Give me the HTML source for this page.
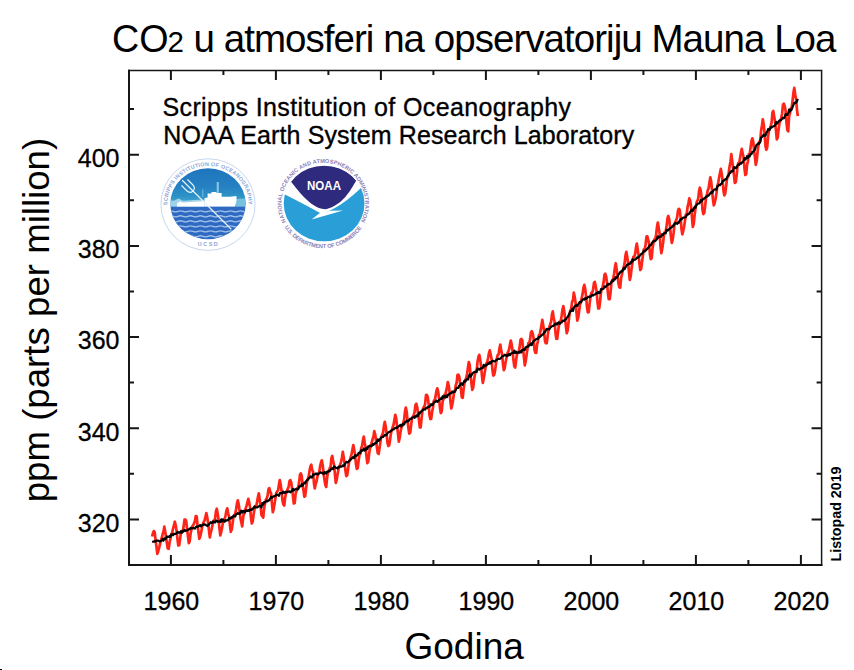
<!DOCTYPE html>
<html><head><meta charset="utf-8"><style>
html,body{margin:0;padding:0;background:#fff;width:854px;height:670px;overflow:hidden}
svg{display:block}
svg{font-family:"Liberation Sans",Arial,sans-serif}
</style></head><body>
<svg width="854" height="670" viewBox="0 0 854 670">
<rect width="854" height="670" fill="#fff"/>
<rect x="0" y="669" width="2" height="1" fill="#000"/>
<g id="title" font-size="38.5">
<text x="112" y="51.7" textLength="56.5" lengthAdjust="spacingAndGlyphs">CO</text>
<text x="167.4" y="51.7" font-size="29.5">2</text>
<text x="193.5" y="51.7" textLength="643" lengthAdjust="spacing">u atmosferi na opservatoriju Mauna Loa</text>
</g>
<g id="logos">
<defs>
<clipPath id="sc"><ellipse cx="208" cy="203.8" rx="37.7" ry="35.5"/></clipPath>
<clipPath id="nc"><ellipse cx="324.1" cy="203.5" rx="40.4" ry="37.8"/></clipPath>
<linearGradient id="sky" x1="0" y1="0" x2="0" y2="1">
<stop offset="0" stop-color="#1f74bd"/><stop offset="0.5" stop-color="#2580c2"/><stop offset="0.75" stop-color="#2d93c6"/><stop offset="0.92" stop-color="#45a9cf"/><stop offset="1" stop-color="#62b8d8"/>
</linearGradient>
<path id="sarc" d="M167.42 205.13A40.6 38.0 0 1 1 248.58 205.13"/>
<path id="narc" d="M286.06 221.93A41.8 40.6 0 1 1 360.54 221.93"/>
<path id="narc2" d="M284.63 227.13A45.6 44.6 0 0 0 361.97 227.13"/>
</defs>
<ellipse cx="208" cy="204.6" rx="47.1" ry="45.8" fill="none" stroke="#c6d8f0" stroke-width="1"/>
<g clip-path="url(#sc)">
<rect x="168" y="166" width="80" height="40.5" fill="url(#sky)"/>
<rect x="168" y="206.3" width="80" height="36" fill="#2f69c2"/>
<g fill="none" stroke="#9cc0e8" stroke-width="1.3"><path d="M168 211.4q2.5-1.1 5 0t5 0 5 0 5 0 5 0 5 0 5 0 5 0 5 0 5 0 5 0 5 0 5 0 5 0 5 0 5 0"/><path d="M168 216.3q2.5-1.1 5 0t5 0 5 0 5 0 5 0 5 0 5 0 5 0 5 0 5 0 5 0 5 0 5 0 5 0 5 0 5 0"/><path d="M168 221.3q2.5-1.1 5 0t5 0 5 0 5 0 5 0 5 0 5 0 5 0 5 0 5 0 5 0 5 0 5 0 5 0 5 0 5 0"/><path d="M168 226.4q2.5-1.1 5 0t5 0 5 0 5 0 5 0 5 0 5 0 5 0 5 0 5 0 5 0 5 0 5 0 5 0 5 0 5 0"/><path d="M168 231.4q2.5-1.1 5 0t5 0 5 0 5 0 5 0 5 0 5 0 5 0 5 0 5 0 5 0 5 0 5 0 5 0 5 0 5 0"/><path d="M168 236.3q2.5-1.1 5 0t5 0 5 0 5 0 5 0 5 0 5 0 5 0 5 0 5 0 5 0 5 0 5 0 5 0 5 0 5 0"/><path d="M168 241.2q2.5-1.1 5 0t5 0 5 0 5 0 5 0 5 0 5 0 5 0 5 0 5 0 5 0 5 0 5 0 5 0 5 0 5 0"/></g>
<path d="M170 206.5V200.5L174 200.8L178.5 198.6L183 200.8Q188 200.4 193 200Q198 199.4 204.5 199.8V206.5Z" fill="#9fd3ea"/><path d="M177 206.5V203.5L179.5 201.6L183 202.6Q190 201.8 204.5 201.2V206.5Z" fill="#fff"/><path d="M236 206.5V199L242 198.5L248 199V206.5Z" fill="#77c0de"/>
<path d="M204.5 206.5V198.3L207.6 197.5V193.5H211.5V192H216.5V193H221.6V196.8H230L236.5 196V201L235 206.5Z" fill="#fff"/>
<path d="M216.7 182H218.8V193H216.7Z" fill="#8cc6e6"/>
<path d="M202.2 189.5H203.4V197H202.2Z" fill="#6db3dc"/>
<g fill="none" stroke="#e6f3fb" stroke-width="1.15" stroke-linecap="round">
<path d="M181.75 185.75L186.50 190.50Q190.00 194.00 193.00 191.00Q196.00 188.00 192.50 184.50L187.75 179.75M182.50 180.50L231.00 229.00"/>
</g>
</g>
<g font-size="5.4" font-weight="bold" fill="#8aa6d6">
<text><textPath href="#sarc" textLength="125.2" lengthAdjust="spacing">SCRIPPS INSTITUTION OF OCEANOGRAPHY</textPath></text>
<text x="208.5" y="246" text-anchor="middle" font-size="5.4" letter-spacing="1.6">UCSD</text>
</g>
<g clip-path="url(#nc)">
<path d="M280 192Q305 204.5 321.5 213.8Q341 208 364 185L372 185L372 245L280 245Z" fill="#2a9fd7"/>
<path d="M311.6 219.4L319.5 213.2L330 210.8L343 210.6L326.5 215.2Z" fill="#fff"/>
<path d="M290.7 181.2A40.4 37.8 0 0 1 356.3 180.6C350 191 343 205 326 209.3C312 209 300 193 290.7 181.2Z" fill="#2e2a7e"/>
</g>
<text x="307" y="190.2" font-weight="bold" font-size="12.5" fill="#fff" textLength="34" lengthAdjust="spacingAndGlyphs">NOAA</text>
<g font-size="5.6" font-weight="bold" fill="#8a80b6">
<text><textPath href="#narc" textLength="166.8" lengthAdjust="spacing">NATIONAL OCEANIC AND ATMOSPHERIC ADMINISTRATION</textPath></text>
<text><textPath href="#narc2" textLength="90.8" lengthAdjust="spacing">U.S. DEPARTMENT OF COMMERCE</textPath></text>
</g>
</g>
<g font-size="25" stroke="#000" stroke-width="0.35">
<text x="162.5" y="115.6" textLength="408.5" lengthAdjust="spacing">Scripps Institution of Oceanography</text>
<text x="163.3" y="144.4" textLength="471" lengthAdjust="spacing">NOAA Earth System Research Laboratory</text>
</g>
<path d="M152.1 536.5L153.0 533.0 153.8 531.1 154.7 532.2 155.6 540.4 156.5 547.0 157.3 553.8 158.2 551.5 159.1 547.9 160.0 544.1 160.8 540.4 161.7 538.1 162.6 534.3 163.5 531.7 164.3 526.6 165.2 531.8 166.1 537.5 167.0 544.0 167.8 548.5 168.7 548.8 169.6 542.2 170.5 538.1 171.3 534.7 172.2 532.2 173.1 528.6 174.0 525.2 174.8 521.7 175.7 525.3 176.6 531.1 177.5 539.4 178.3 545.5 179.2 545.2 180.1 539.1 181.0 531.6 181.8 532.5 182.7 530.7 183.6 526.8 184.5 519.6 185.3 519.5 186.2 521.2 187.1 529.0 188.0 536.5 188.8 543.1 189.7 541.3 190.6 533.5 191.5 529.3 192.3 526.4 193.2 525.2 194.1 523.4 195.0 520.7 195.8 516.1 196.7 516.4 197.6 525.9 198.5 532.5 199.3 538.8 200.2 536.6 201.1 532.7 202.0 527.7 202.8 524.7 203.7 521.9 204.6 520.4 205.5 516.7 206.3 513.1 207.2 517.1 208.1 522.9 209.0 530.7 209.8 537.4 210.7 532.8 211.6 529.5 212.5 525.1 213.3 520.9 214.2 520.8 215.1 518.6 216.0 510.9 216.8 508.7 217.7 514.0 218.6 519.8 219.5 528.6 220.3 535.4 221.2 532.0 222.1 527.6 223.0 522.2 223.8 520.1 224.7 519.0 225.6 515.2 226.5 510.3 227.3 508.3 228.2 513.3 229.1 516.7 230.0 525.6 230.8 531.8 231.7 529.6 232.6 523.7 233.5 516.5 234.3 515.2 235.2 513.7 236.1 509.3 237.0 503.3 237.8 500.3 238.7 504.2 239.6 511.4 240.5 518.4 241.3 522.1 242.2 526.4 243.1 518.2 244.0 511.9 244.8 513.1 245.7 508.3 246.6 505.6 247.5 502.2 248.3 498.8 249.2 502.4 250.1 507.4 251.0 517.8 251.8 523.5 252.7 521.5 253.6 514.3 254.5 509.2 255.3 506.1 256.2 506.7 257.1 501.8 258.0 496.7 258.8 493.3 259.7 499.6 260.6 505.9 261.5 515.1 262.3 516.1 263.2 517.7 264.1 508.4 265.0 503.8 265.8 499.9 266.7 498.3 267.6 495.8 268.5 489.3 269.3 488.1 270.2 491.6 271.1 493.6 272.0 504.5 272.8 512.2 273.7 508.8 274.6 503.6 275.5 497.6 276.3 493.0 277.2 491.4 278.1 490.4 279.0 484.2 279.8 480.0 280.7 484.7 281.6 491.6 282.5 500.5 283.3 504.2 284.2 505.6 285.1 498.0 286.0 493.1 286.8 492.1 287.7 488.8 288.6 486.9 289.5 481.1 290.3 480.1 291.2 482.2 292.1 488.8 293.0 496.6 293.8 503.5 294.7 503.1 295.6 493.8 296.5 490.9 297.3 488.1 298.2 488.0 299.1 482.3 300.0 474.6 300.8 473.3 301.7 476.0 302.6 485.0 303.5 490.2 304.3 496.7 305.2 496.1 306.1 488.1 307.0 481.6 307.8 478.8 308.7 476.4 309.6 470.5 310.5 466.1 311.3 464.7 312.2 470.0 313.1 471.9 314.0 483.7 314.8 488.5 315.7 484.0 316.6 481.0 317.5 476.2 318.3 473.7 319.2 472.2 320.1 466.4 321.0 462.5 321.8 460.3 322.7 465.2 323.6 473.5 324.5 479.7 325.3 484.7 326.2 486.9 327.1 477.9 328.0 472.2 328.8 470.8 329.7 468.4 330.6 466.3 331.5 457.7 332.3 455.9 333.2 461.7 334.1 464.8 335.0 475.1 335.8 482.8 336.7 479.8 337.6 474.2 338.5 469.2 339.3 466.5 340.2 464.7 341.1 461.8 342.0 457.2 342.8 451.8 343.7 457.4 344.6 463.8 345.5 471.0 346.3 476.1 347.2 475.2 348.1 468.7 349.0 462.2 349.8 460.3 350.7 457.5 351.6 453.7 352.5 449.3 353.3 445.1 354.2 449.6 355.1 454.6 356.0 464.5 356.8 468.9 357.7 468.2 358.6 460.5 359.5 454.9 360.3 453.8 361.2 448.2 362.1 445.6 363.0 439.8 363.8 436.5 364.7 443.0 365.6 447.5 366.5 456.3 367.3 463.1 368.2 461.8 369.1 454.3 370.0 448.1 370.8 446.4 371.7 442.6 372.6 439.2 373.5 436.0 374.3 431.0 375.2 434.4 376.1 441.4 377.0 448.1 377.8 453.2 378.7 453.9 379.6 447.5 380.5 441.2 381.3 436.4 382.2 434.8 383.1 432.5 384.0 425.7 384.8 421.8 385.7 426.6 386.6 433.4 387.5 442.8 388.3 446.0 389.2 445.4 390.1 439.5 391.0 433.1 391.8 430.2 392.7 427.2 393.6 424.5 394.5 419.2 395.3 414.8 396.2 418.6 397.1 426.4 398.0 433.8 398.8 441.7 399.7 437.7 400.6 431.5 401.5 427.1 402.3 425.9 403.2 422.8 404.1 419.8 405.0 411.5 405.8 407.5 406.7 411.8 407.6 420.8 408.5 428.7 409.3 433.7 410.2 432.7 411.1 425.4 412.0 418.5 412.8 416.6 413.7 415.5 414.6 411.9 415.5 404.8 416.3 403.8 417.2 407.0 418.1 414.3 419.0 420.1 419.8 427.3 420.7 427.3 421.6 418.2 422.5 410.4 423.3 408.0 424.2 406.5 425.1 404.2 426.0 395.1 426.8 394.9 427.7 397.0 428.6 403.5 429.5 415.0 430.3 419.1 431.2 418.8 432.1 411.9 433.0 407.4 433.8 400.8 434.7 400.4 435.6 396.1 436.5 390.6 437.3 388.3 438.2 391.6 439.1 398.8 440.0 407.7 440.8 413.1 441.7 411.3 442.6 401.6 443.5 399.0 444.3 394.9 445.2 395.1 446.1 391.1 447.0 387.4 447.8 382.0 448.7 385.6 449.6 392.0 450.5 401.9 451.3 408.5 452.2 405.0 453.1 399.9 454.0 392.3 454.8 391.6 455.7 385.5 456.6 382.9 457.5 374.9 458.3 374.7 459.2 376.2 460.1 383.9 461.0 389.8 461.8 397.3 462.7 397.8 463.6 389.2 464.5 382.7 465.3 380.2 466.2 378.0 467.1 373.8 468.0 367.3 468.8 362.0 469.7 365.1 470.6 375.4 471.5 383.8 472.3 389.8 473.2 387.7 474.1 379.5 475.0 373.7 475.8 371.1 476.7 369.7 477.6 361.3 478.5 356.8 479.3 354.8 480.2 359.6 481.1 366.4 482.0 376.2 482.8 382.9 483.7 378.6 484.6 373.2 485.5 367.8 486.3 363.5 487.2 362.1 488.1 358.1 489.0 353.0 489.8 350.3 490.7 354.7 491.6 359.3 492.5 370.3 493.3 375.6 494.2 374.7 495.1 370.4 496.0 363.3 496.8 358.5 497.7 355.0 498.6 354.5 499.5 348.3 500.3 344.6 501.2 350.4 502.1 354.4 503.0 364.2 503.8 370.1 504.7 368.1 505.6 362.0 506.5 358.0 507.3 353.5 508.2 351.6 509.1 349.5 510.0 344.2 510.8 340.6 511.7 344.6 512.6 351.4 513.5 360.2 514.3 366.2 515.2 367.6 516.1 360.1 517.0 354.3 517.8 352.5 518.7 351.7 519.6 347.4 520.5 339.9 521.3 338.9 522.2 340.0 523.1 348.9 524.0 357.8 524.8 365.4 525.7 361.0 526.6 354.7 527.5 348.6 528.3 343.1 529.2 343.2 530.1 339.1 531.0 332.3 531.8 331.3 532.7 333.3 533.6 338.6 534.5 349.8 535.3 352.7 536.2 352.9 537.1 344.7 538.0 340.8 538.8 335.3 539.7 334.4 540.6 330.4 541.5 324.9 542.3 319.8 543.2 325.3 544.1 331.3 545.0 341.2 545.8 343.2 546.7 343.2 547.6 336.6 548.5 329.3 549.3 327.3 550.2 324.0 551.1 321.8 552.0 314.0 552.8 311.4 553.7 318.3 554.6 321.5 555.5 332.7 556.3 338.7 557.2 338.8 558.1 331.4 559.0 324.6 559.8 321.5 560.7 321.4 561.6 315.9 562.5 309.5 563.3 306.1 564.2 311.1 565.1 318.1 566.0 327.4 566.8 333.2 567.7 330.1 568.6 322.0 569.5 314.4 570.3 310.7 571.2 308.9 572.1 301.6 573.0 300.2 573.8 292.7 574.7 296.9 575.6 303.0 576.5 312.6 577.3 320.6 578.2 317.7 579.1 311.3 580.0 304.3 580.8 302.5 581.7 298.1 582.6 293.9 583.5 287.4 584.3 284.9 585.2 288.9 586.1 296.9 587.0 307.4 587.8 312.4 588.7 312.0 589.6 303.9 590.5 296.7 591.3 292.9 592.2 293.0 593.1 289.3 594.0 282.9 594.8 281.9 595.7 286.3 596.6 291.6 597.5 302.0 598.3 308.5 599.2 308.4 600.1 301.3 601.0 291.9 601.8 289.4 602.7 286.8 603.6 282.3 604.5 274.6 605.3 273.8 606.2 276.7 607.1 283.2 608.0 294.1 608.8 299.2 609.7 299.2 610.6 292.1 611.5 281.6 612.3 280.2 613.2 279.1 614.1 273.7 615.0 266.7 615.8 263.2 616.7 269.6 617.6 276.6 618.5 283.5 619.3 287.3 620.2 287.6 621.1 278.0 622.0 274.2 622.8 270.3 623.7 267.5 624.6 263.3 625.5 255.3 626.3 251.8 627.2 256.7 628.1 263.2 629.0 272.2 629.8 279.9 630.7 276.1 631.6 268.3 632.5 262.5 633.3 256.9 634.2 256.7 635.1 254.2 636.0 247.6 636.8 243.5 637.7 249.2 638.6 255.6 639.5 263.9 640.3 270.0 641.2 268.7 642.1 261.7 643.0 254.8 643.8 249.4 644.7 249.4 645.6 244.4 646.5 236.6 647.3 236.3 648.2 239.8 649.1 243.3 650.0 254.8 650.8 259.2 651.7 258.2 652.6 247.7 653.5 242.8 654.3 239.3 655.2 239.5 656.1 234.7 657.0 227.0 657.8 222.5 658.7 227.9 659.6 233.4 660.5 246.0 661.3 253.2 662.2 248.9 663.1 242.9 664.0 234.5 664.8 232.0 665.7 231.8 666.6 225.7 667.5 218.3 668.3 216.0 669.2 219.1 670.1 227.9 671.0 237.2 671.8 242.8 672.7 239.6 673.6 232.9 674.5 224.5 675.3 221.8 676.2 220.2 677.1 217.5 678.0 210.6 678.8 208.8 679.7 209.9 680.6 217.1 681.5 229.1 682.3 234.4 683.2 230.9 684.1 226.8 685.0 220.6 685.8 214.7 686.7 214.1 687.6 207.0 688.5 202.7 689.3 198.4 690.2 200.8 691.1 207.3 692.0 217.7 692.8 226.9 693.7 223.8 694.6 215.3 695.5 208.0 696.3 203.8 697.2 200.5 698.1 199.7 699.0 191.6 699.8 187.7 700.7 190.5 701.6 197.3 702.5 209.9 703.3 214.1 704.2 213.0 705.1 206.7 706.0 197.8 706.8 195.2 707.7 190.5 708.6 188.2 709.5 182.2 710.3 177.4 711.2 181.6 712.1 191.2 713.0 199.6 713.8 205.4 714.7 203.0 715.6 198.7 716.5 192.7 717.3 186.0 718.2 182.8 719.1 177.6 720.0 173.0 720.8 168.9 721.7 173.5 722.6 180.3 723.5 190.8 724.3 195.3 725.2 193.7 726.1 186.5 727.0 178.9 727.8 177.0 728.7 172.8 729.6 166.3 730.5 161.7 731.3 154.1 732.2 161.0 733.1 168.4 734.0 175.3 734.8 182.8 735.7 182.2 736.6 175.9 737.5 166.6 738.3 163.0 739.2 163.3 740.1 157.8 741.0 152.4 741.8 148.9 742.7 153.6 743.6 157.8 744.5 168.5 745.3 175.0 746.2 174.1 747.1 164.7 748.0 160.9 748.8 154.2 749.7 154.7 750.6 147.2 751.5 140.9 752.3 138.4 753.2 141.1 754.1 150.6 755.0 157.7 755.8 164.8 756.7 160.8 757.6 151.5 758.5 144.8 759.3 141.6 760.2 141.4 761.1 130.6 762.0 125.2 762.8 119.3 763.7 124.4 764.6 133.7 765.5 146.1 766.3 149.8 767.2 147.3 768.1 136.1 769.0 130.6 769.8 128.6 770.7 125.9 771.6 122.5 772.5 112.4 773.3 111.0 774.2 116.6 775.1 121.9 776.0 130.5 776.8 139.4 777.7 137.4 778.6 129.4 779.5 122.8 780.3 120.8 781.2 118.4 782.1 113.4 783.0 104.7 783.8 103.6 784.7 106.0 785.6 111.0 786.5 122.6 787.3 129.9 788.2 131.3 789.1 116.3 790.0 113.2 790.8 108.3 791.7 107.5 792.6 100.2 793.5 92.1 794.3 87.9 795.2 94.3 796.1 99.4 797.0 109.8 797.8 116.2" fill="none" stroke="#ff2418" stroke-width="2.7" stroke-linejoin="round"/>
<path d="M152.1 541.5L153.0 541.7 153.8 541.7 154.7 541.2 155.6 541.5 156.5 540.5 157.3 540.6 158.2 540.5 159.1 541.3 160.0 541.5 160.8 541.1 161.7 540.4 162.6 538.9 163.5 540.7 164.3 538.4 165.2 539.2 166.1 538.4 167.0 536.4 167.8 536.9 168.7 537.0 169.6 536.0 170.5 536.8 171.3 534.3 172.2 534.3 173.1 535.2 174.0 533.7 174.8 533.9 175.7 533.8 176.6 533.4 177.5 531.9 178.3 532.6 179.2 532.4 180.1 532.7 181.0 531.2 181.8 532.8 182.7 530.9 183.6 531.5 184.5 529.9 185.3 530.9 186.2 530.5 187.1 530.4 188.0 529.4 188.8 529.6 189.7 529.1 190.6 527.8 191.5 528.4 192.3 528.4 193.2 527.8 194.1 528.5 195.0 528.6 195.8 527.1 196.7 526.5 197.6 527.0 198.5 526.0 199.3 526.1 200.2 525.1 201.1 526.4 202.0 525.3 202.8 524.9 203.7 524.1 204.6 524.7 205.5 524.7 206.3 525.3 207.2 525.9 208.1 525.3 209.0 524.4 209.8 523.3 210.7 522.1 211.6 522.9 212.5 522.7 213.3 521.4 214.2 522.1 215.1 522.4 216.0 520.6 216.8 520.6 217.7 521.8 218.6 521.5 219.5 521.3 220.3 522.0 221.2 519.4 222.1 521.5 223.0 519.4 223.8 520.6 224.7 521.7 225.6 520.2 226.5 520.6 227.3 520.1 228.2 520.3 229.1 518.0 230.0 518.4 230.8 518.6 231.7 517.2 232.6 517.3 233.5 515.7 234.3 515.8 235.2 516.6 236.1 514.1 237.0 513.9 237.8 513.2 238.7 513.7 239.6 513.9 240.5 512.1 241.3 510.6 242.2 512.7 243.1 510.8 244.0 511.2 244.8 512.2 245.7 510.4 246.6 510.6 247.5 510.9 248.3 510.1 249.2 511.0 250.1 509.5 251.0 510.0 251.8 509.8 252.7 508.5 253.6 508.1 254.5 506.5 255.3 507.1 256.2 507.5 257.1 507.5 258.0 506.8 258.8 506.5 259.7 505.8 260.6 505.9 261.5 507.4 262.3 503.1 263.2 504.6 264.1 502.1 265.0 502.3 265.8 501.7 266.7 500.6 267.6 501.3 268.5 500.4 269.3 500.3 270.2 498.6 271.1 496.7 272.0 497.9 272.8 496.8 273.7 496.4 274.6 496.1 275.5 496.0 276.3 494.4 277.2 495.0 278.1 495.1 279.0 495.8 279.8 493.2 280.7 493.1 281.6 493.2 282.5 493.3 283.3 491.6 284.2 492.6 285.1 492.9 286.0 491.7 286.8 492.2 287.7 491.7 288.6 491.7 289.5 491.4 290.3 492.3 291.2 491.4 292.1 491.1 293.0 489.0 293.8 490.5 294.7 489.7 295.6 489.0 296.5 489.2 297.3 489.5 298.2 489.2 299.1 486.6 300.0 486.2 300.8 486.3 301.7 484.2 302.6 485.6 303.5 484.2 304.3 482.6 305.2 483.1 306.1 481.2 307.0 480.3 307.8 479.8 308.7 478.5 309.6 477.4 310.5 476.5 311.3 477.6 312.2 477.2 313.1 474.3 314.0 474.7 314.8 474.6 315.7 473.5 316.6 473.6 317.5 474.6 318.3 473.7 319.2 473.4 320.1 472.5 321.0 472.4 321.8 472.8 322.7 473.4 323.6 474.0 324.5 472.0 325.3 472.2 326.2 473.5 327.1 471.6 328.0 471.7 328.8 470.8 329.7 471.3 330.6 469.8 331.5 468.6 332.3 468.2 333.2 469.2 334.1 466.5 335.0 467.0 335.8 467.8 336.7 468.0 337.6 468.4 338.5 466.8 339.3 467.1 340.2 466.4 341.1 466.7 342.0 466.5 342.8 465.3 343.7 466.0 344.6 464.8 345.5 463.0 346.3 461.9 347.2 462.1 348.1 462.4 349.0 461.2 349.8 460.4 350.7 459.7 351.6 458.1 352.5 458.2 353.3 456.9 354.2 458.2 355.1 455.1 356.0 456.2 356.8 455.6 357.7 454.7 358.6 452.9 359.5 452.5 360.3 453.2 361.2 450.1 362.1 450.9 363.0 450.4 363.8 448.4 364.7 450.7 365.6 450.0 366.5 447.8 367.3 449.1 368.2 446.3 369.1 446.5 370.0 445.6 370.8 446.1 371.7 446.1 372.6 444.1 373.5 444.9 374.3 443.9 375.2 443.0 376.1 443.2 377.0 441.6 377.8 439.4 378.7 440.8 379.6 439.9 380.5 438.7 381.3 437.4 382.2 436.9 383.1 437.0 384.0 435.9 384.8 434.8 385.7 435.4 386.6 434.7 387.5 433.2 388.3 432.3 389.2 432.0 390.1 431.6 391.0 431.0 391.8 430.2 392.7 429.6 393.6 429.5 394.5 428.4 395.3 428.1 396.2 427.7 397.1 428.0 398.0 426.5 398.8 426.4 399.7 425.6 400.6 424.8 401.5 426.4 402.3 424.7 403.2 423.8 404.1 424.6 405.0 422.0 405.8 422.2 406.7 420.6 407.6 421.5 408.5 421.3 409.3 419.9 410.2 418.8 411.1 419.0 412.0 417.9 412.8 417.4 413.7 416.8 414.6 417.9 415.5 415.9 416.3 416.7 417.2 415.1 418.1 415.9 419.0 412.7 419.8 413.3 420.7 411.5 421.6 411.7 422.5 410.4 423.3 409.4 424.2 409.5 425.1 409.6 426.0 407.8 426.8 408.1 427.7 407.2 428.6 406.8 429.5 406.9 430.3 405.7 431.2 404.1 432.1 405.2 433.0 404.4 433.8 402.4 434.7 402.3 435.6 401.3 436.5 400.7 437.3 401.8 438.2 401.2 439.1 399.9 440.0 399.5 440.8 398.3 441.7 399.0 442.6 396.3 443.5 397.6 444.3 395.9 445.2 397.5 446.1 395.8 447.0 397.1 447.8 394.7 448.7 394.8 449.6 393.6 450.5 393.2 451.3 393.3 452.2 391.5 453.1 392.4 454.0 391.4 454.8 391.8 455.7 390.1 456.6 388.3 457.5 387.8 458.3 387.8 459.2 385.8 460.1 385.4 461.0 383.4 461.8 383.6 462.7 384.8 463.6 382.4 464.5 380.7 465.3 381.7 466.2 380.0 467.1 379.0 468.0 379.5 468.8 376.5 469.7 374.3 470.6 376.6 471.5 375.4 472.3 373.6 473.2 372.7 474.1 372.1 475.0 372.1 475.8 371.7 476.7 372.1 477.6 368.6 478.5 368.6 479.3 369.7 480.2 368.7 481.1 368.4 482.0 368.1 482.8 368.1 483.7 364.9 484.6 366.4 485.5 365.2 486.3 365.5 487.2 364.6 488.1 363.1 489.0 363.8 489.8 362.1 490.7 363.4 491.6 361.8 492.5 360.8 493.3 360.8 494.2 361.5 495.1 361.2 496.0 360.3 496.8 360.0 497.7 358.8 498.6 358.8 499.5 358.8 500.3 358.7 501.2 357.8 502.1 356.3 503.0 356.2 503.8 355.6 504.7 354.7 505.6 355.0 506.5 356.2 507.3 354.9 508.2 355.5 509.1 354.0 510.0 355.2 510.8 353.7 511.7 353.3 512.6 352.7 513.5 353.0 514.3 350.6 515.2 353.0 516.1 351.7 517.0 352.6 517.8 352.8 518.7 352.2 519.6 352.7 520.5 351.1 521.3 352.3 522.2 349.8 523.1 350.1 524.0 349.0 524.8 350.0 525.7 347.3 526.6 346.9 527.5 346.4 528.3 346.6 529.2 345.1 530.1 345.1 531.0 343.3 531.8 345.0 532.7 342.8 533.6 340.9 534.5 340.6 535.3 339.8 536.2 339.1 537.1 338.9 538.0 339.0 538.8 337.1 539.7 337.1 540.6 336.2 541.5 335.4 542.3 334.5 543.2 334.5 544.1 332.4 545.0 332.0 545.8 330.4 546.7 328.9 547.6 329.2 548.5 329.0 549.3 329.4 550.2 327.7 551.1 326.9 552.0 326.2 552.8 325.9 553.7 325.8 554.6 324.2 555.5 324.5 556.3 323.4 557.2 324.5 558.1 322.7 559.0 322.3 559.8 323.9 560.7 322.7 561.6 322.5 562.5 320.7 563.3 320.8 564.2 321.0 565.1 319.7 566.0 319.1 566.8 317.7 567.7 316.9 568.6 315.3 569.5 313.2 570.3 311.1 571.2 311.1 572.1 309.0 573.0 310.9 573.8 307.6 574.7 306.4 575.6 305.6 576.5 305.2 577.3 306.1 578.2 304.3 579.1 302.9 580.0 301.8 580.8 302.3 581.7 301.0 582.6 299.6 583.5 299.1 584.3 299.6 585.2 298.2 586.1 298.8 587.0 298.1 587.8 296.9 588.7 297.0 589.6 296.6 590.5 296.9 591.3 295.8 592.2 294.9 593.1 295.5 594.0 294.7 594.8 294.5 595.7 294.0 596.6 293.0 597.5 293.3 598.3 292.0 599.2 293.1 600.1 292.8 601.0 289.2 601.8 289.3 602.7 289.0 603.6 288.7 604.5 286.5 605.3 287.2 606.2 286.1 607.1 285.2 608.0 283.8 608.8 284.7 609.7 284.0 610.6 283.2 611.5 282.1 612.3 280.4 613.2 281.3 614.1 278.9 615.0 279.4 615.8 277.2 616.7 277.9 617.6 276.6 618.5 274.4 619.3 273.7 620.2 272.1 621.1 271.3 622.0 271.6 622.8 270.1 623.7 267.8 624.6 269.0 625.5 267.3 626.3 266.0 627.2 264.5 628.1 264.6 629.0 263.8 629.8 264.0 630.7 261.9 631.6 262.5 632.5 259.4 633.3 260.5 634.2 259.5 635.1 259.7 636.0 259.0 636.8 257.6 637.7 257.9 638.6 256.9 639.5 256.2 640.3 255.0 641.2 254.1 642.1 253.7 643.0 252.1 643.8 250.7 644.7 251.5 645.6 250.5 646.5 249.6 647.3 248.8 648.2 247.8 649.1 246.4 650.0 245.0 650.8 245.3 651.7 243.5 652.6 242.1 653.5 241.1 654.3 241.1 655.2 241.1 656.1 239.8 657.0 239.1 657.8 236.4 658.7 237.7 659.6 236.5 660.5 236.5 661.3 236.7 662.2 234.2 663.1 234.8 664.0 233.2 664.8 233.0 665.7 233.3 666.6 229.8 667.5 230.6 668.3 230.0 669.2 229.0 670.1 228.3 671.0 227.7 671.8 227.3 672.7 225.6 673.6 225.8 674.5 223.8 675.3 222.9 676.2 223.5 677.1 223.8 678.0 222.4 678.8 222.8 679.7 220.7 680.6 219.2 681.5 219.5 682.3 218.4 683.2 217.6 684.1 217.5 685.0 217.5 685.8 217.1 686.7 215.3 687.6 214.2 688.5 214.3 689.3 213.5 690.2 211.9 691.1 210.6 692.0 209.6 692.8 211.0 693.7 208.5 694.6 207.0 695.5 207.6 696.3 205.3 697.2 204.1 698.1 203.6 699.0 203.5 699.8 202.8 700.7 200.2 701.6 201.3 702.5 199.9 703.3 198.7 704.2 198.7 705.1 197.9 706.0 196.7 706.8 196.8 707.7 195.7 708.6 195.6 709.5 194.4 710.3 193.2 711.2 192.1 712.1 192.9 713.0 191.3 713.8 189.8 714.7 189.4 715.6 189.3 716.5 189.6 717.3 186.5 718.2 185.9 719.1 184.6 720.0 185.2 720.8 184.1 721.7 183.7 722.6 180.9 723.5 181.0 724.3 180.1 725.2 179.2 726.1 179.5 727.0 177.6 727.8 175.9 728.7 175.7 729.6 172.7 730.5 172.8 731.3 170.8 732.2 171.0 733.1 171.4 734.0 167.0 734.8 167.3 735.7 168.2 736.6 167.6 737.5 165.5 738.3 164.6 739.2 164.8 740.1 163.4 741.0 163.7 741.8 162.3 742.7 162.3 743.6 160.4 744.5 158.1 745.3 159.6 746.2 158.6 747.1 156.2 748.0 157.8 748.8 155.8 749.7 156.4 750.6 154.0 751.5 154.0 752.3 152.0 753.2 151.7 754.1 150.8 755.0 149.4 755.8 146.6 756.7 144.5 757.6 144.5 758.5 143.1 759.3 143.5 760.2 141.8 761.1 137.5 762.0 137.0 762.8 136.0 763.7 134.7 764.6 135.8 765.5 135.5 766.3 132.6 767.2 131.8 768.1 129.1 769.0 129.9 769.8 129.6 770.7 127.4 771.6 127.6 772.5 126.6 773.3 126.5 774.2 125.9 775.1 125.5 776.0 121.8 776.8 123.7 777.7 122.6 778.6 121.4 779.5 120.4 780.3 120.5 781.2 119.8 782.1 118.8 783.0 117.8 783.8 118.3 784.7 117.1 785.6 114.0 786.5 114.8 787.3 114.9 788.2 113.2 789.1 109.5 790.0 111.5 790.8 109.7 791.7 109.6 792.6 106.8 793.5 104.9 794.3 102.7 795.2 103.0 796.1 102.8 797.0 101.1 797.8 98.8" fill="none" stroke="#000" stroke-width="2.2" stroke-linejoin="round"/>
<path d="M129 69.8V566M128 565H822.4" fill="none" stroke="#161616" stroke-width="2"/><path d="M128 70.5H822.4M821.6 69.75V566" fill="none" stroke="#161616" stroke-width="1.5"/>
<path d="M170.9 565V555M170.9 70V80M223.4 565V560M223.4 70V75M275.9 565V555M275.9 70V80M328.4 565V560M328.4 70V75M380.9 565V555M380.9 70V80M433.4 565V560M433.4 70V75M485.9 565V555M485.9 70V80M538.4 565V560M538.4 70V75M590.9 565V555M590.9 70V80M643.4 565V560M643.4 70V75M695.9 565V555M695.9 70V80M748.4 565V560M748.4 70V75M800.9 565V555M800.9 70V80M129 519.4H139M821.6 519.4H811.6M129 473.8H134M821.6 473.8H816.6M129 428.2H139M821.6 428.2H811.6M129 382.6H134M821.6 382.6H816.6M129 337.1H139M821.6 337.1H811.6M129 291.5H134M821.6 291.5H816.6M129 245.9H139M821.6 245.9H811.6M129 200.3H134M821.6 200.3H816.6M129 154.7H139M821.6 154.7H811.6M129 109.1H134M821.6 109.1H816.6" fill="none" stroke="#161616" stroke-width="2"/>
<g font-size="25" text-anchor="end" stroke="#000" stroke-width="0.3"><text x='119.5' y='531.7'>320</text><text x='119.5' y='440.5'>340</text><text x='119.5' y='349.4'>360</text><text x='119.5' y='258.2'>380</text><text x='119.5' y='167.0'>400</text></g>
<g font-size="25" text-anchor="middle" stroke="#000" stroke-width="0.3"><text x='171.4' y='610.3'>1960</text><text x='276.4' y='610.3'>1970</text><text x='381.4' y='610.3'>1980</text><text x='486.4' y='610.3'>1990</text><text x='591.4' y='610.3'>2000</text><text x='696.4' y='610.3'>2010</text><text x='801.4' y='610.3'>2020</text></g>
<text transform="translate(49.1 500.3) rotate(-90)" font-size="36.5" textLength="364.5" lengthAdjust="spacingAndGlyphs" x="-2">ppm (parts per million)</text>
<text x="404.5" y="659" font-size="37">Godina</text>
<text transform="translate(841.3 560.5) rotate(-90)" font-size="15" font-weight="bold" x="-1" textLength="95" lengthAdjust="spacingAndGlyphs">Listopad 2019</text>
</svg>
</body></html>
